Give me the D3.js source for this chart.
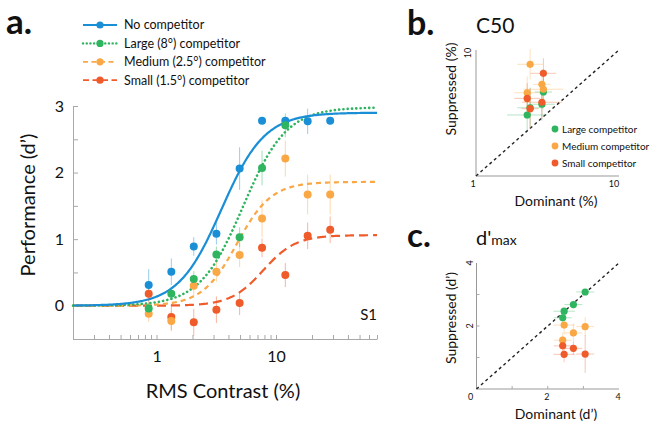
<!DOCTYPE html>
<html><head><meta charset="utf-8">
<script src="https://cdn.jsdelivr.net/npm/d3@7"></script>
<style>
body{margin:0;background:#fff;}
svg text{font-family:Lato,"Noto Sans",sans-serif;fill:#111;}
</style></head>
<body><svg id="chart" width="651" height="429"></svg>
<script>
// ---------- Panel a data ----------
const contrast = [0.86, 1.33, 2.05, 3.17, 4.96, 7.64, 11.96, 18.4, 28.4];
const seriesNames = ["No competitor", "Large (8°) competitor", "Medium (2.5°) competitor", "Small (1.5°) competitor"];
const noComp    = [0.31, 0.51, 0.89, 1.08, 2.06, 2.78, 2.78, 2.77, 2.78];
const noCompErr = [0.24, 0.20, 0.14, 0.16, 0.32, 0, 0, 0.19, 0];
const large     = [-0.04, 0.18, 0.40, 0.77, 1.03, 2.07, 2.71, null, null];
const largeErr  = [0.08, 0.1, 0.12, 0.12, 0.15, 0.26, 0.18, 0, 0];
const medium    = [-0.12, -0.23, 0.30, 0.51, 0.76, 1.31, 2.21, 1.67, 1.67];
const mediumErr = [0.12, 0.15, 0.15, 0.15, 0.18, 0.28, 0.27, 0.3, 0.3];
const small     = [0.18, -0.17, -0.25, -0.06, 0.04, 0.87, 0.46, 1.05, 1.14];
const smallErr  = [0.15, 0.2, 0.2, 0.2, 0.18, 0.14, 0.18, 0.2, 0.2];
// Naka-Rushton fit parameters
const fitMax = [2.9, 2.98, 1.86, 1.06];
const fitC50 = [3.5, 5.3, 4.7, 7.8];
const fitN   = [2.4, 2.4, 3.0, 3.2];
const xTickLabels = [1, 10];
const yTickLabels = [0, 1, 2, 3];

// ---------- Panel b data (C50, %) ----------
const bNames = ["Large competitor", "Medium competitor", "Small competitor"];
const bDomLarge  = [2.28, 2.39, 2.89, 2.96];
const bSupLarge  = [3.05, 3.48, 3.71, 4.64];
const bDomMedium = [2.28, 2.39, 2.89, 2.96];
const bSupMedium = [4.58, 7.7, 5.34, 4.88];
const bDomSmall  = [2.28, 2.39, 2.89, 2.96];
const bSupSmall  = [4.13, 3.42, 3.85, 6.53];
const bXErrLog = [0.14, 0.09, 0.09, 0.06];   // per subject, log10 half-width
const bYErrLog = [0.12, 0.16, 0.13, 0.12];

// ---------- Panel c data (d'max) ----------
const cDom       = [2.42, 2.46, 2.72, 3.05];
const cSupLarge  = [2.26, 2.47, 2.68, 3.08];
const cSupMedium = [1.55, 2.03, 1.78, 1.98];
const cSupSmall  = [1.37, 1.10, 1.29, 1.11];
const cXErr = [0.25, 0.3, 0.25, 0.25];
const cYErrLarge  = [0.1, 0.1, 0.12, 0.05];
const cYErrMedium = [0.25, 0.3, 0.3, 0.3];
const cYErrSmall  = [0.3, 0.25, 0.2, 0.6];

const colors = ["#1a8fd6", "#2fb45f", "#f9a845", "#ef5b2b"];
const dashes = [null, "0.1,4.2", "5,4", "9,5"];

const svg = d3.select("#chart");
svg.append("rect").attr("width",651).attr("height",429).attr("fill","#fff");

// ================= Panel a =================
const x = d3.scaleLog().domain([0.2, 70]).range([73, 377]);
const y = d3.scaleLinear().domain([-0.5, 3]).range([339, 106]);
const axisCol = "#a8a8a8";

const minorX = [];
[0.1, 1, 10].forEach(d => { for (let k = 1; k <= 9; k++) { const v = +(k*d).toPrecision(2); if (v >= 0.2 && v <= 70) minorX.push(v); } });
const gx = svg.append("g").attr("transform","translate(0,339)")
  .call(d3.axisBottom(x).tickValues(minorX).tickSizeInner(-4).tickSizeOuter(0).tickPadding(12)
    .tickFormat(d => xTickLabels.includes(d) ? String(d) : ""));
gx.select(".domain").attr("stroke", axisCol);
gx.selectAll(".tick line").attr("stroke", axisCol);
gx.selectAll("text").style("font-size","16px").attr("fill","#111");

const gy = svg.append("g").attr("transform","translate(73,0)")
  .call(d3.axisLeft(y).tickValues([-0.5,0,0.5,1,1.5,2,2.5,3]).tickSizeInner(-5).tickSizeOuter(0).tickPadding(9)
    .tickFormat(d => yTickLabels.includes(d) ? String(d) : ""));
gy.select(".domain").attr("stroke", axisCol);
gy.selectAll(".tick line").attr("stroke", axisCol);
gy.selectAll("text").style("font-size","16px").attr("fill","#111");

// curves
const cs = d3.range(0, 301).map(i => 0.2 * Math.pow(70/0.2, i/300));
const series = [noComp, large, medium, small];
const errs = [noCompErr, largeErr, mediumErr, smallErr];
const order = [3, 2, 1, 0];
order.forEach(s => {
  const line = d3.line().x(c => x(c)).y(c => y(fitMax[s] * Math.pow(c, fitN[s]) / (Math.pow(c, fitN[s]) + Math.pow(fitC50[s], fitN[s]))));
  const p = svg.append("path").attr("d", line(cs)).attr("fill","none").attr("stroke", colors[s])
    .attr("stroke-width", s === 1 ? 2.6 : 2.2).attr("stroke-linecap", s === 1 ? "round" : "butt");
  if (dashes[s]) p.attr("stroke-dasharray", dashes[s]);
});
order.forEach(s => {
  const g = svg.append("g");
  contrast.forEach((c, i) => {
    const v = series[s][i];
    if (v === null) return;
    const e = errs[s][i];
    if (e > 0) g.append("line").attr("x1", x(c)).attr("x2", x(c)).attr("y1", y(v - e)).attr("y2", y(v + e))
      .attr("stroke", colors[s]).attr("stroke-opacity", 0.45).attr("stroke-width", 1);
  });
});
[0, 3, 2, 1].forEach(s => {
  contrast.forEach((c, i) => {
    const v = series[s][i];
    if (v === null) return;
    svg.append("circle").attr("cx", x(c)).attr("cy", y(v)).attr("r", 4).attr("fill", colors[s]);
  });
});

// legend a
seriesNames.forEach((n, i) => {
  const yy = 25 + i * 18.4;
  const l = svg.append("line").attr("x1", 83).attr("x2", 117).attr("y1", yy).attr("y2", yy)
    .attr("stroke", colors[i]).attr("stroke-width", i === 1 ? 2.4 : 1.8).attr("stroke-linecap", i === 1 ? "round" : "butt");
  if (dashes[i]) l.attr("stroke-dasharray", i === 1 ? "0.1,3.6" : (i === 2 ? "5,3.5" : "6,3.5"));
  svg.append("circle").attr("cx", 100).attr("cy", yy).attr("r", 3.6).attr("fill", colors[i]);
  svg.append("text").attr("x", 124).attr("y", yy).attr("dy", "0.35em").style("font-size", "12.5px").text(n);
});

svg.append("text").attr("x", 6).attr("y", 34).style("font-size","35px").style("font-weight","bold").text("a.");
svg.append("text").attr("x", 223).attr("y", 398).attr("text-anchor","middle").style("font-size","20px").text("RMS Contrast (%)");
svg.append("text").attr("transform","translate(35,205) rotate(-90)").attr("text-anchor","middle").style("font-size","20px").text("Performance (d’)");
svg.append("text").attr("x", 377).attr("y", 320).attr("text-anchor","end").style("font-size","15px").text("S1");

// ================= Panel b =================
const xb = d3.scaleLog().domain([1, 10]).range([476, 619]);
const yb = d3.scaleLog().domain([1, 10]).range([176, 50]);
svg.append("line").attr("x1", xb(1)).attr("x2", xb(10)).attr("y1", yb(1)).attr("y2", yb(1)).attr("stroke", "#999");
svg.append("line").attr("x1", xb(1)).attr("x2", xb(1)).attr("y1", yb(1)).attr("y2", yb(10)).attr("stroke", "#999");
svg.append("line").attr("x1", xb(1)).attr("x2", xb(10)).attr("y1", yb(1)).attr("y2", yb(10))
  .attr("stroke", "#222").attr("stroke-width", 1.4).attr("stroke-dasharray", "3,3");
svg.append("text").attr("x", xb(1) - 3).attr("y", 187).attr("text-anchor","middle").style("font-size","9px").text("1");
svg.append("text").attr("x", xb(10) - 5).attr("y", 187).attr("text-anchor","middle").style("font-size","9px").text("10");
svg.append("text").attr("transform", `translate(${xb(1) - 5},${yb(10) + 3}) rotate(-90)`).attr("text-anchor","middle").style("font-size","9px").text("10");

const bSets = [[bDomLarge, bSupLarge], [bDomMedium, bSupMedium], [bDomSmall, bSupSmall]];
bSets.forEach((set, k) => {
  set[0].forEach((dx, i) => {
    const dy = set[1][i];
    const ex = bXErrLog[(i + k) % 4], ey = bYErrLog[(i + 2*k) % 4];
    svg.append("line").attr("x1", xb(dx / Math.pow(10, ex))).attr("x2", xb(dx * Math.pow(10, ex))).attr("y1", yb(dy)).attr("y2", yb(dy))
      .attr("stroke", colors[k+1]).attr("stroke-opacity", 0.35);
    svg.append("line").attr("x1", xb(dx)).attr("x2", xb(dx)).attr("y1", yb(dy / Math.pow(10, ey))).attr("y2", yb(dy * Math.pow(10, ey)))
      .attr("stroke", colors[k+1]).attr("stroke-opacity", 0.35);
  });
});
bSets.forEach((set, k) => {
  set[0].forEach((dx, i) => {
    svg.append("circle").attr("cx", xb(dx)).attr("cy", yb(set[1][i])).attr("r", 3.6).attr("fill", colors[k+1]);
  });
});
bNames.forEach((n, i) => {
  const yy = 129 + i * 17;
  svg.append("circle").attr("cx", 555).attr("cy", yy).attr("r", 3.4).attr("fill", colors[i+1]);
  svg.append("text").attr("x", 562).attr("y", yy).attr("dy","0.35em").style("font-size","10px").text(n);
});
svg.append("text").attr("x", 407).attr("y", 35).style("font-size","34px").style("font-weight","bold").text("b.");
svg.append("text").attr("x", 476).attr("y", 33).style("font-size","21px").text("C50");
svg.append("text").attr("x", 556).attr("y", 206).attr("text-anchor","middle").style("font-size","14px").text("Dominant (%)");
svg.append("text").attr("transform","translate(456,89) rotate(-90)").attr("text-anchor","middle").style("font-size","14px").text("Suppressed (%)");

// ================= Panel c =================
const xc = d3.scaleLinear().domain([0, 4]).range([476.5, 619]);
const yc = d3.scaleLinear().domain([0, 4]).range([389, 263]);
svg.append("line").attr("x1", xc(0)).attr("x2", xc(4)).attr("y1", yc(0)).attr("y2", yc(0)).attr("stroke", "#999");
svg.append("line").attr("x1", xc(0)).attr("x2", xc(0)).attr("y1", yc(0)).attr("y2", yc(4)).attr("stroke", "#999");
[1, 2, 3].forEach(t => {
  svg.append("line").attr("x1", xc(t)).attr("x2", xc(t)).attr("y1", yc(0)).attr("y2", yc(0) - 3).attr("stroke", "#aaa");
  svg.append("line").attr("x1", xc(0)).attr("x2", xc(0) + 3).attr("y1", yc(t)).attr("y2", yc(t)).attr("stroke", "#aaa");
});
svg.append("line").attr("x1", xc(0)).attr("x2", xc(4)).attr("y1", yc(0)).attr("y2", yc(4))
  .attr("stroke", "#222").attr("stroke-width", 1.4).attr("stroke-dasharray", "3,3");
[0, 2, 4].forEach(t => {
  svg.append("text").attr("x", xc(t) - (t === 0 ? 6 : 1)).attr("y", 400).attr("text-anchor","middle").style("font-size","9px").text(String(t));
});
[2, 4].forEach(t => {
  svg.append("text").attr("transform", `translate(${xc(0) - 4},${yc(t)}) rotate(-90)`).attr("text-anchor","middle").style("font-size","9px").text(String(t));
});
const cSets = [[cSupLarge, cYErrLarge], [cSupMedium, cYErrMedium], [cSupSmall, cYErrSmall]];
cSets.forEach((set, k) => {
  cDom.forEach((dx, i) => {
    const dy = set[0][i];
    svg.append("line").attr("x1", xc(dx - cXErr[i])).attr("x2", xc(dx + cXErr[i])).attr("y1", yc(dy)).attr("y2", yc(dy))
      .attr("stroke", colors[k+1]).attr("stroke-opacity", 0.35);
    svg.append("line").attr("x1", xc(dx)).attr("x2", xc(dx)).attr("y1", yc(dy - set[1][i])).attr("y2", yc(dy + set[1][i]))
      .attr("stroke", colors[k+1]).attr("stroke-opacity", 0.35);
  });
});
cSets.forEach((set, k) => {
  cDom.forEach((dx, i) => {
    svg.append("circle").attr("cx", xc(dx)).attr("cy", yc(set[0][i])).attr("r", 3.6).attr("fill", colors[k+1]);
  });
});
svg.append("text").attr("x", 407).attr("y", 247).style("font-size","33px").style("font-weight","bold").text("c.");
const tt = svg.append("text").attr("x", 476).attr("y", 245).style("font-size","20px");
tt.append("tspan").text("d'");
tt.append("tspan").style("font-size","14px").text("max");
svg.append("text").attr("x", 556).attr("y", 419).attr("text-anchor","middle").style("font-size","14px").text("Dominant (d’)");
svg.append("text").attr("transform","translate(456,318) rotate(-90)").attr("text-anchor","middle").style("font-size","14px").text("Suppressed  (d’)");
</script></body></html>
